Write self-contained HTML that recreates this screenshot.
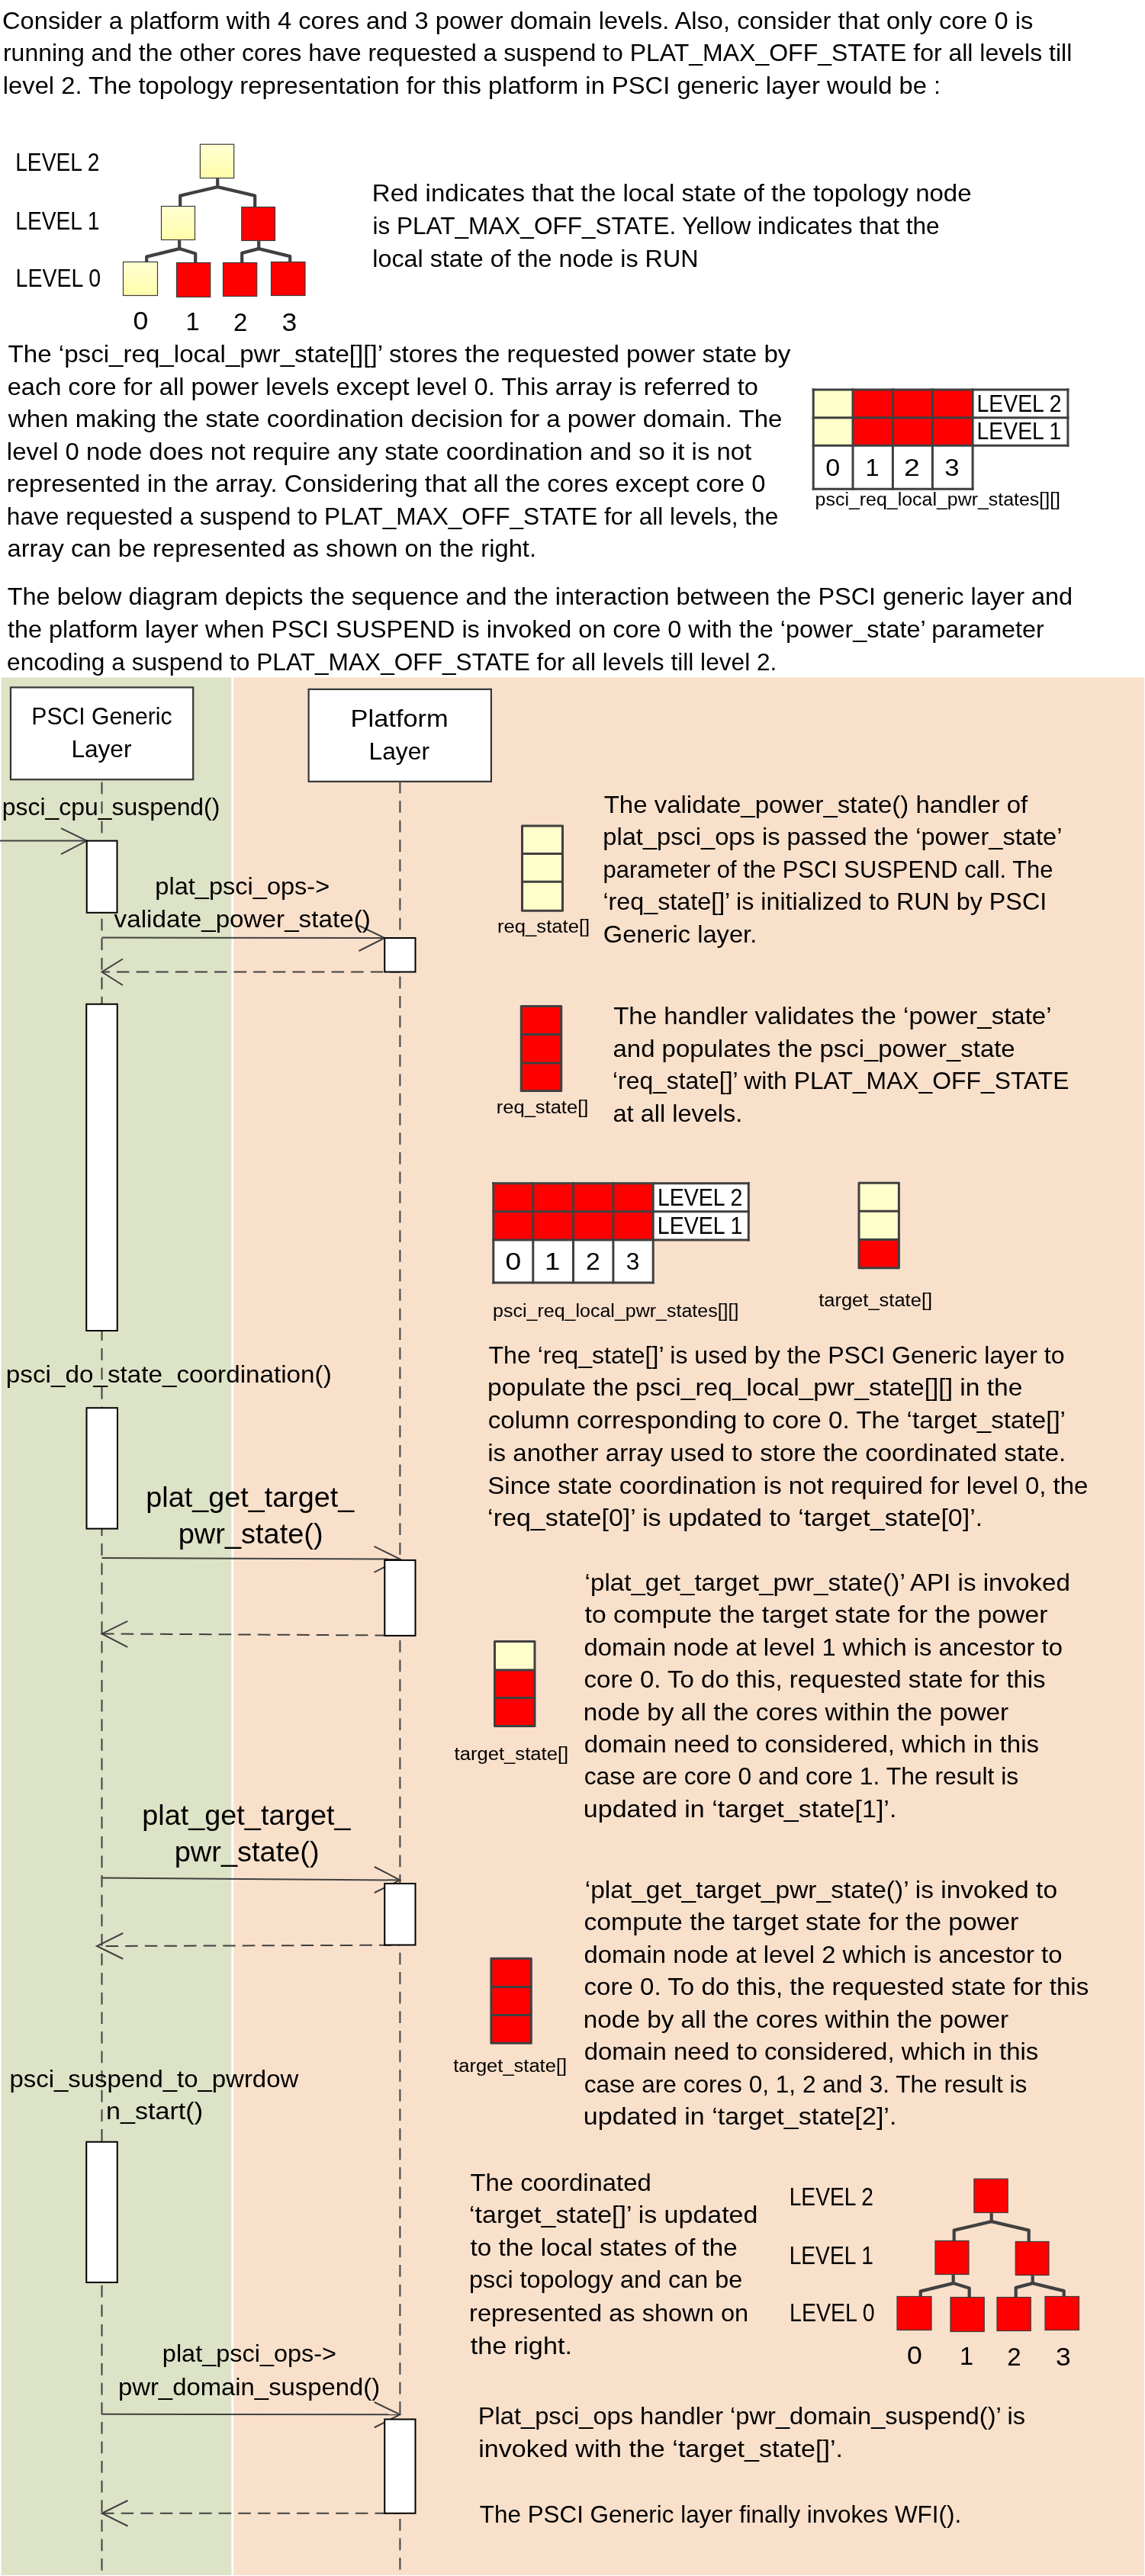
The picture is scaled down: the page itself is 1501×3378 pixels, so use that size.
<!DOCTYPE html>
<html><head><meta charset="utf-8"><title>PSCI suspend sequence</title>
<style>html,body{margin:0;padding:0;background:#FFFFFF;}body{width:1501px;height:3378px;font-family:"Liberation Sans",sans-serif;}svg{display:block;will-change:transform;}</style>
</head><body><svg width="1501" height="3378" viewBox="0 0 1501 3378"><defs><linearGradient id="ygrad" x1="0" y1="0" x2="0" y2="1"><stop offset="0" stop-color="#FFFFD2"/><stop offset="1" stop-color="#FFFDA9"/></linearGradient></defs><rect x="1.6" y="888.4" width="301.8" height="2488.6" fill="#DCE3C6"/><rect x="306.2" y="888.4" width="1193.8" height="2488.6" fill="#F9E0CB"/><g transform="translate(0.00,0.00)"><polyline points="236.20,271.10 236.20,256.60 285.20,245.10 334.20,256.60 334.20,272.10" fill="none" stroke="#404040" stroke-width="4.2" stroke-linejoin="round"/><polyline points="285.20,234.10 285.20,245.10" fill="none" stroke="#404040" stroke-width="4.2" stroke-linejoin="round"/><polyline points="235.20,315.10 235.20,326.10" fill="none" stroke="#404040" stroke-width="4.2" stroke-linejoin="round"/><polyline points="192.20,344.10 192.20,336.60 235.20,326.10 256.20,332.60 256.20,345.10" fill="none" stroke="#404040" stroke-width="4.2" stroke-linejoin="round"/><polyline points="339.20,316.10 339.20,326.10" fill="none" stroke="#404040" stroke-width="4.2" stroke-linejoin="round"/><polyline points="317.20,345.10 317.20,331.85 339.20,326.10 380.20,336.10 380.20,344.10" fill="none" stroke="#404040" stroke-width="4.2" stroke-linejoin="round"/><rect x="262.40" y="189.25" width="44.30" height="44.25" fill="url(#ygrad)" stroke="#3c3c3c" stroke-width="1.2"/><rect x="211.50" y="270.50" width="44.00" height="44.00" fill="url(#ygrad)" stroke="#3c3c3c" stroke-width="1.2"/><rect x="316.75" y="271.50" width="43.75" height="44.00" fill="#FF0000" stroke="#3c3c3c" stroke-width="1.2"/><rect x="161.50" y="343.50" width="45.00" height="44.00" fill="url(#ygrad)" stroke="#3c3c3c" stroke-width="1.2"/><rect x="231.50" y="344.50" width="44.25" height="45.00" fill="#FF0000" stroke="#3c3c3c" stroke-width="1.2"/><rect x="292.50" y="344.50" width="44.25" height="44.00" fill="#FF0000" stroke="#3c3c3c" stroke-width="1.2"/><rect x="355.50" y="343.50" width="44.50" height="44.00" fill="#FF0000" stroke="#3c3c3c" stroke-width="1.2"/></g><g transform="translate(1014.50,2668.00)"><polyline points="236.20,271.10 236.20,256.60 285.20,245.10 334.20,256.60 334.20,272.10" fill="none" stroke="#404040" stroke-width="4.2" stroke-linejoin="round"/><polyline points="285.20,234.10 285.20,245.10" fill="none" stroke="#404040" stroke-width="4.2" stroke-linejoin="round"/><polyline points="235.20,315.10 235.20,326.10" fill="none" stroke="#404040" stroke-width="4.2" stroke-linejoin="round"/><polyline points="192.20,344.10 192.20,336.60 235.20,326.10 256.20,332.60 256.20,345.10" fill="none" stroke="#404040" stroke-width="4.2" stroke-linejoin="round"/><polyline points="339.20,316.10 339.20,326.10" fill="none" stroke="#404040" stroke-width="4.2" stroke-linejoin="round"/><polyline points="317.20,345.10 317.20,331.85 339.20,326.10 380.20,336.10 380.20,344.10" fill="none" stroke="#404040" stroke-width="4.2" stroke-linejoin="round"/><rect x="262.40" y="189.25" width="44.30" height="44.25" fill="#FF0000" stroke="#3c3c3c" stroke-width="1.2"/><rect x="211.50" y="270.50" width="44.00" height="44.00" fill="#FF0000" stroke="#3c3c3c" stroke-width="1.2"/><rect x="316.75" y="271.50" width="43.75" height="44.00" fill="#FF0000" stroke="#3c3c3c" stroke-width="1.2"/><rect x="161.50" y="343.50" width="45.00" height="44.00" fill="#FF0000" stroke="#3c3c3c" stroke-width="1.2"/><rect x="231.50" y="344.50" width="44.25" height="45.00" fill="#FF0000" stroke="#3c3c3c" stroke-width="1.2"/><rect x="292.50" y="344.50" width="44.25" height="44.00" fill="#FF0000" stroke="#3c3c3c" stroke-width="1.2"/><rect x="355.50" y="343.50" width="44.50" height="44.00" fill="#FF0000" stroke="#3c3c3c" stroke-width="1.2"/></g><rect x="1066.20" y="510.90" width="51.80" height="36.80" fill="#FFFFCC"/><rect x="1118.00" y="510.90" width="52.40" height="36.80" fill="#FF0000"/><rect x="1170.40" y="510.90" width="52.00" height="36.80" fill="#FF0000"/><rect x="1222.40" y="510.90" width="52.70" height="36.80" fill="#FF0000"/><rect x="1275.10" y="510.90" width="124.80" height="36.80" fill="#FFFFFF"/><rect x="1066.20" y="547.70" width="51.80" height="36.50" fill="#FFFFCC"/><rect x="1118.00" y="547.70" width="52.40" height="36.50" fill="#FF0000"/><rect x="1170.40" y="547.70" width="52.00" height="36.50" fill="#FF0000"/><rect x="1222.40" y="547.70" width="52.70" height="36.50" fill="#FF0000"/><rect x="1275.10" y="547.70" width="124.80" height="36.50" fill="#FFFFFF"/><rect x="1066.20" y="584.20" width="51.80" height="57.00" fill="#FFFFFF"/><rect x="1118.00" y="584.20" width="52.40" height="57.00" fill="#FFFFFF"/><rect x="1170.40" y="584.20" width="52.00" height="57.00" fill="#FFFFFF"/><rect x="1222.40" y="584.20" width="52.70" height="57.00" fill="#FFFFFF"/><line x1="1066.20" y1="510.90" x2="1399.90" y2="510.90" stroke="#404040" stroke-width="3" stroke-linecap="square"/><line x1="1066.20" y1="547.70" x2="1399.90" y2="547.70" stroke="#404040" stroke-width="3" stroke-linecap="square"/><line x1="1066.20" y1="584.20" x2="1399.90" y2="584.20" stroke="#404040" stroke-width="3" stroke-linecap="square"/><line x1="1066.20" y1="641.20" x2="1275.10" y2="641.20" stroke="#404040" stroke-width="3" stroke-linecap="square"/><line x1="1066.20" y1="510.90" x2="1066.20" y2="641.20" stroke="#404040" stroke-width="3" stroke-linecap="square"/><line x1="1118.00" y1="510.90" x2="1118.00" y2="641.20" stroke="#404040" stroke-width="3" stroke-linecap="square"/><line x1="1170.40" y1="510.90" x2="1170.40" y2="641.20" stroke="#404040" stroke-width="3" stroke-linecap="square"/><line x1="1222.40" y1="510.90" x2="1222.40" y2="641.20" stroke="#404040" stroke-width="3" stroke-linecap="square"/><line x1="1275.10" y1="510.90" x2="1275.10" y2="641.20" stroke="#404040" stroke-width="3" stroke-linecap="square"/><line x1="1399.90" y1="510.90" x2="1399.90" y2="584.20" stroke="#404040" stroke-width="3" stroke-linecap="square"/><rect x="646.80" y="1551.65" width="52.00" height="37.15" fill="#FF0000"/><rect x="698.80" y="1551.65" width="52.70" height="37.15" fill="#FF0000"/><rect x="751.50" y="1551.65" width="52.40" height="37.15" fill="#FF0000"/><rect x="803.90" y="1551.65" width="52.30" height="37.15" fill="#FF0000"/><rect x="856.20" y="1551.65" width="125.10" height="37.15" fill="#FFFFFF"/><rect x="646.80" y="1588.80" width="52.00" height="37.20" fill="#FF0000"/><rect x="698.80" y="1588.80" width="52.70" height="37.20" fill="#FF0000"/><rect x="751.50" y="1588.80" width="52.40" height="37.20" fill="#FF0000"/><rect x="803.90" y="1588.80" width="52.30" height="37.20" fill="#FF0000"/><rect x="856.20" y="1588.80" width="125.10" height="37.20" fill="#FFFFFF"/><rect x="646.80" y="1626.00" width="52.00" height="55.90" fill="#FFFFFF"/><rect x="698.80" y="1626.00" width="52.70" height="55.90" fill="#FFFFFF"/><rect x="751.50" y="1626.00" width="52.40" height="55.90" fill="#FFFFFF"/><rect x="803.90" y="1626.00" width="52.30" height="55.90" fill="#FFFFFF"/><line x1="646.80" y1="1551.65" x2="981.30" y2="1551.65" stroke="#404040" stroke-width="3" stroke-linecap="square"/><line x1="646.80" y1="1588.80" x2="981.30" y2="1588.80" stroke="#404040" stroke-width="3" stroke-linecap="square"/><line x1="646.80" y1="1626.00" x2="981.30" y2="1626.00" stroke="#404040" stroke-width="3" stroke-linecap="square"/><line x1="646.80" y1="1681.90" x2="856.20" y2="1681.90" stroke="#404040" stroke-width="3" stroke-linecap="square"/><line x1="646.80" y1="1551.65" x2="646.80" y2="1681.90" stroke="#404040" stroke-width="3" stroke-linecap="square"/><line x1="698.80" y1="1551.65" x2="698.80" y2="1681.90" stroke="#404040" stroke-width="3" stroke-linecap="square"/><line x1="751.50" y1="1551.65" x2="751.50" y2="1681.90" stroke="#404040" stroke-width="3" stroke-linecap="square"/><line x1="803.90" y1="1551.65" x2="803.90" y2="1681.90" stroke="#404040" stroke-width="3" stroke-linecap="square"/><line x1="856.20" y1="1551.65" x2="856.20" y2="1681.90" stroke="#404040" stroke-width="3" stroke-linecap="square"/><line x1="981.30" y1="1551.65" x2="981.30" y2="1626.00" stroke="#404040" stroke-width="3" stroke-linecap="square"/><rect x="684.50" y="1083.00" width="53.00" height="36.50" fill="#FFFFCC"/><rect x="684.50" y="1119.50" width="53.00" height="36.75" fill="#FFFFCC"/><rect x="684.50" y="1156.25" width="53.00" height="38.00" fill="#FFFFCC"/><rect x="684.50" y="1083.00" width="53.00" height="111.25" fill="none" stroke="#404040" stroke-width="3" stroke-linejoin="round"/><line x1="684.50" y1="1119.50" x2="737.50" y2="1119.50" stroke="#404040" stroke-width="3"/><line x1="684.50" y1="1156.25" x2="737.50" y2="1156.25" stroke="#404040" stroke-width="3"/><rect x="683.25" y="1319.50" width="52.50" height="37.00" fill="#FF0000"/><rect x="683.25" y="1356.50" width="52.50" height="37.50" fill="#FF0000"/><rect x="683.25" y="1394.00" width="52.50" height="36.50" fill="#FF0000"/><rect x="683.25" y="1319.50" width="52.50" height="111.00" fill="none" stroke="#404040" stroke-width="3" stroke-linejoin="round"/><line x1="683.25" y1="1356.50" x2="735.75" y2="1356.50" stroke="#404040" stroke-width="3"/><line x1="683.25" y1="1394.00" x2="735.75" y2="1394.00" stroke="#404040" stroke-width="3"/><rect x="1126.00" y="1551.30" width="52.40" height="36.90" fill="#FFFFCC"/><rect x="1126.00" y="1588.20" width="52.40" height="37.30" fill="#FFFFCC"/><rect x="1126.00" y="1625.50" width="52.40" height="37.25" fill="#FF0000"/><rect x="1126.00" y="1551.30" width="52.40" height="111.45" fill="none" stroke="#404040" stroke-width="3" stroke-linejoin="round"/><line x1="1126.00" y1="1588.20" x2="1178.40" y2="1588.20" stroke="#404040" stroke-width="3"/><line x1="1126.00" y1="1625.50" x2="1178.40" y2="1625.50" stroke="#404040" stroke-width="3"/><rect x="648.50" y="2152.40" width="52.50" height="37.50" fill="#FFFFCC"/><rect x="648.50" y="2189.90" width="52.50" height="36.70" fill="#FF0000"/><rect x="648.50" y="2226.60" width="52.50" height="37.00" fill="#FF0000"/><rect x="648.50" y="2152.40" width="52.50" height="111.20" fill="none" stroke="#404040" stroke-width="3" stroke-linejoin="round"/><line x1="648.50" y1="2189.90" x2="701.00" y2="2189.90" stroke="#404040" stroke-width="3"/><line x1="648.50" y1="2226.60" x2="701.00" y2="2226.60" stroke="#404040" stroke-width="3"/><rect x="643.90" y="2568.30" width="52.40" height="37.20" fill="#FF0000"/><rect x="643.90" y="2605.50" width="52.40" height="37.00" fill="#FF0000"/><rect x="643.90" y="2642.50" width="52.40" height="36.70" fill="#FF0000"/><rect x="643.90" y="2568.30" width="52.40" height="110.90" fill="none" stroke="#404040" stroke-width="3" stroke-linejoin="round"/><line x1="643.90" y1="2605.50" x2="696.30" y2="2605.50" stroke="#404040" stroke-width="3"/><line x1="643.90" y1="2642.50" x2="696.30" y2="2642.50" stroke="#404040" stroke-width="3"/><rect x="14" y="901.4" width="239.2" height="120.8" fill="#FFFFFF" stroke="#353535" stroke-width="2.2"/><rect x="404.6" y="903.85" width="239.3" height="121" fill="#FFFFFF" stroke="#353535" stroke-width="2.2"/><line x1="133.50" y1="1025.50" x2="133.50" y2="3371.50" stroke="#404040" stroke-width="2.0" stroke-dasharray="15.75 9.85" stroke-dashoffset="0.00"/><line x1="524.40" y1="1024.50" x2="524.40" y2="3371.50" stroke="#404040" stroke-width="2.0" stroke-dasharray="15.75 9.85" stroke-dashoffset="0.00"/><line x1="0.00" y1="1102.60" x2="113.75" y2="1102.60" stroke="#404040" stroke-width="2.0"/><polyline points="80.00,1086.10 113.75,1102.60 80.00,1120.10" fill="none" stroke="#404040" stroke-width="2"/><line x1="133.50" y1="1229.50" x2="504.25" y2="1230.00" stroke="#404040" stroke-width="2.0"/><polyline points="470.50,1213.75 504.25,1230.00 470.50,1247.00" fill="none" stroke="#404040" stroke-width="2"/><line x1="524.40" y1="1274.50" x2="133.50" y2="1274.50" stroke="#404040" stroke-width="2.0" stroke-dasharray="16.5 9.1" stroke-dashoffset="3.50"/><polyline points="161.00,1257.50 133.50,1274.50 161.00,1292.00" fill="none" stroke="#404040" stroke-width="2"/><line x1="133.50" y1="2043.00" x2="524.40" y2="2044.50" stroke="#404040" stroke-width="2.0"/><polyline points="490.50,2027.90 524.40,2044.50 490.50,2061.90" fill="none" stroke="#404040" stroke-width="2"/><line x1="524.40" y1="2144.60" x2="133.50" y2="2142.40" stroke="#404040" stroke-width="2.0" stroke-dasharray="16.5 9.1" stroke-dashoffset="9.20"/><polyline points="167.20,2125.80 133.50,2142.40 167.20,2159.90" fill="none" stroke="#404040" stroke-width="2"/><line x1="133.50" y1="2462.50" x2="524.50" y2="2465.50" stroke="#404040" stroke-width="2.0"/><polyline points="490.75,2448.00 524.50,2465.50 490.75,2482.00" fill="none" stroke="#404040" stroke-width="2"/><line x1="524.40" y1="2550.70" x2="127.00" y2="2552.00" stroke="#404040" stroke-width="2.0" stroke-dasharray="16.5 9.1" stroke-dashoffset="14.70"/><polyline points="161.25,2535.00 127.00,2552.00 161.25,2568.75" fill="none" stroke="#404040" stroke-width="2"/><line x1="133.50" y1="3165.75" x2="524.50" y2="3166.25" stroke="#404040" stroke-width="2.0"/><polyline points="490.75,3150.00 524.50,3166.25 490.75,3183.25" fill="none" stroke="#404040" stroke-width="2"/><line x1="524.40" y1="3295.75" x2="133.50" y2="3295.75" stroke="#404040" stroke-width="2.0" stroke-dasharray="16.5 9.1" stroke-dashoffset="9.20"/><polyline points="167.50,3279.00 133.50,3295.75 167.50,3312.50" fill="none" stroke="#404040" stroke-width="2"/><rect x="113.75" y="1102.60" width="39.75" height="94.20" fill="#FFFFFF" stroke="#000000" stroke-width="2"/><rect x="113.25" y="1316.75" width="40.50" height="428.25" fill="#FFFFFF" stroke="#000000" stroke-width="2"/><rect x="113.50" y="1846.25" width="40.50" height="158.35" fill="#FFFFFF" stroke="#000000" stroke-width="2"/><rect x="113.25" y="2808.75" width="40.50" height="184.25" fill="#FFFFFF" stroke="#000000" stroke-width="2"/><rect x="504.25" y="1230.00" width="40.25" height="44.50" fill="#FFFFFF" stroke="#000000" stroke-width="2"/><rect x="504.30" y="2045.90" width="40.20" height="99.00" fill="#FFFFFF" stroke="#000000" stroke-width="2"/><rect x="504.25" y="2470.00" width="40.25" height="80.50" fill="#FFFFFF" stroke="#000000" stroke-width="2"/><rect x="504.25" y="3172.50" width="40.25" height="123.25" fill="#FFFFFF" stroke="#000000" stroke-width="2"/><g fill="#000000" font-family="&quot;Liberation Sans&quot;, sans-serif"><text x="3.05" y="37.50" font-size="32.00" textLength="1351.25" lengthAdjust="spacingAndGlyphs">Consider a platform with 4 cores and 3 power domain levels. Also, consider that only core 0 is</text><text x="3.96" y="80.00" font-size="32.00" textLength="1401.30" lengthAdjust="spacingAndGlyphs">running and the other cores have requested a suspend to PLAT_MAX_OFF_STATE for all levels till</text><text x="3.84" y="123.00" font-size="32.00" textLength="1229.27" lengthAdjust="spacingAndGlyphs">level 2. The topology representation for this platform in PSCI generic layer would be :</text><text x="487.84" y="263.80" font-size="32.00" textLength="785.78" lengthAdjust="spacingAndGlyphs">Red indicates that the local state of the topology node</text><text x="488.48" y="306.80" font-size="32.00" textLength="743.01" lengthAdjust="spacingAndGlyphs">is PLAT_MAX_OFF_STATE. Yellow indicates that the</text><text x="488.27" y="349.50" font-size="32.00" textLength="427.30" lengthAdjust="spacingAndGlyphs">local state of the node is RUN</text><text x="10.58" y="475.20" font-size="32.00" textLength="1025.85" lengthAdjust="spacingAndGlyphs">The ‘psci_req_local_pwr_state[][]’ stores the requested power state by</text><text x="9.68" y="517.70" font-size="32.00" textLength="984.22" lengthAdjust="spacingAndGlyphs">each core for all power levels except level 0. This array is referred to</text><text x="10.86" y="560.20" font-size="32.00" textLength="1014.48" lengthAdjust="spacingAndGlyphs">when making the state coordination decision for a power domain. The</text><text x="8.83" y="602.80" font-size="32.00" textLength="976.36" lengthAdjust="spacingAndGlyphs">level 0 node does not require any state coordination and so it is not</text><text x="8.85" y="645.30" font-size="32.00" textLength="994.57" lengthAdjust="spacingAndGlyphs">represented in the array. Considering that all the cores except core 0</text><text x="8.85" y="687.90" font-size="32.00" textLength="1011.42" lengthAdjust="spacingAndGlyphs">have requested a suspend to PLAT_MAX_OFF_STATE for all levels, the</text><text x="9.54" y="730.40" font-size="32.00" textLength="693.42" lengthAdjust="spacingAndGlyphs">array can be represented as shown on the right.</text><text x="1280.60" y="539.50" font-size="32.00" textLength="110.86" lengthAdjust="spacingAndGlyphs">LEVEL 2</text><text x="1280.60" y="576.00" font-size="32.00" textLength="110.74" lengthAdjust="spacingAndGlyphs">LEVEL 1</text><text x="1082.35" y="623.70" font-size="32.00" textLength="19.00" lengthAdjust="spacingAndGlyphs">0</text><text x="1134.59" y="623.70" font-size="32.00" textLength="18.10" lengthAdjust="spacingAndGlyphs">1</text><text x="1185.06" y="623.70" font-size="32.00" textLength="20.77" lengthAdjust="spacingAndGlyphs">2</text><text x="1238.35" y="623.70" font-size="32.00" textLength="19.37" lengthAdjust="spacingAndGlyphs">3</text><text x="1068.63" y="663.00" font-size="23.50" textLength="321.37" lengthAdjust="spacingAndGlyphs">psci_req_local_pwr_states[][]</text><text x="9.74" y="793.00" font-size="32.00" textLength="1396.37" lengthAdjust="spacingAndGlyphs">The below diagram depicts the sequence and the interaction between the PSCI generic layer and</text><text x="9.99" y="835.80" font-size="32.00" textLength="1358.90" lengthAdjust="spacingAndGlyphs">the platform layer when PSCI SUSPEND is invoked on core 0 with the ‘power_state’ parameter</text><text x="9.06" y="878.60" font-size="32.00" textLength="1009.30" lengthAdjust="spacingAndGlyphs">encoding a suspend to PLAT_MAX_OFF_STATE for all levels till level 2.</text><text x="41.34" y="950.00" font-size="32.00" textLength="184.26" lengthAdjust="spacingAndGlyphs">PSCI Generic</text><text x="93.38" y="993.00" font-size="32.00" textLength="79.08" lengthAdjust="spacingAndGlyphs">Layer</text><text x="459.63" y="953.25" font-size="32.00" textLength="128.07" lengthAdjust="spacingAndGlyphs">Platform</text><text x="483.54" y="995.50" font-size="32.00" textLength="79.42" lengthAdjust="spacingAndGlyphs">Layer</text><text x="2.87" y="1068.80" font-size="32.00" textLength="285.50" lengthAdjust="spacingAndGlyphs">psci_cpu_suspend()</text><text x="203.36" y="1172.85" font-size="32.00" textLength="228.85" lengthAdjust="spacingAndGlyphs">plat_psci_ops-&gt;</text><text x="149.63" y="1215.60" font-size="32.00" textLength="336.17" lengthAdjust="spacingAndGlyphs">validate_power_state()</text><text x="7.87" y="1812.60" font-size="32.00" textLength="426.86" lengthAdjust="spacingAndGlyphs">psci_do_state_coordination()</text><text x="191.34" y="1975.90" font-size="36.00" textLength="272.84" lengthAdjust="spacingAndGlyphs">plat_get_target_</text><text x="233.75" y="2023.90" font-size="36.00" textLength="189.83" lengthAdjust="spacingAndGlyphs">pwr_state()</text><text x="186.33" y="2392.90" font-size="36.00" textLength="273.27" lengthAdjust="spacingAndGlyphs">plat_get_target_</text><text x="228.75" y="2441.15" font-size="36.00" textLength="189.83" lengthAdjust="spacingAndGlyphs">pwr_state()</text><text x="12.41" y="2736.85" font-size="32.00" textLength="378.85" lengthAdjust="spacingAndGlyphs">psci_suspend_to_pwrdow</text><text x="138.97" y="2779.35" font-size="32.00" textLength="127.05" lengthAdjust="spacingAndGlyphs">n_start()</text><text x="212.86" y="3097.10" font-size="32.00" textLength="228.14" lengthAdjust="spacingAndGlyphs">plat_psci_ops-&gt;</text><text x="154.93" y="3140.85" font-size="32.00" textLength="343.30" lengthAdjust="spacingAndGlyphs">pwr_domain_suspend()</text><text x="652.05" y="1222.50" font-size="23.50" textLength="121.11" lengthAdjust="spacingAndGlyphs">req_state[]</text><text x="791.69" y="1065.90" font-size="32.00" textLength="555.44" lengthAdjust="spacingAndGlyphs">The validate_power_state() handler of</text><text x="790.31" y="1108.40" font-size="32.00" textLength="602.18" lengthAdjust="spacingAndGlyphs">plat_psci_ops is passed the ‘power_state’</text><text x="790.54" y="1150.80" font-size="32.00" textLength="589.82" lengthAdjust="spacingAndGlyphs">parameter of the PSCI SUSPEND call. The</text><text x="790.45" y="1193.30" font-size="32.00" textLength="581.72" lengthAdjust="spacingAndGlyphs">‘req_state[]’ is initialized to RUN by PSCI</text><text x="790.79" y="1236.00" font-size="32.00" textLength="201.47" lengthAdjust="spacingAndGlyphs">Generic layer.</text><text x="650.79" y="1459.50" font-size="23.50" textLength="120.54" lengthAdjust="spacingAndGlyphs">req_state[]</text><text x="804.18" y="1342.90" font-size="32.00" textLength="574.38" lengthAdjust="spacingAndGlyphs">The handler validates the ‘power_state’</text><text x="803.53" y="1385.80" font-size="32.00" textLength="527.13" lengthAdjust="spacingAndGlyphs">and populates the psci_power_state</text><text x="803.00" y="1428.10" font-size="32.00" textLength="598.51" lengthAdjust="spacingAndGlyphs">‘req_state[]’ with PLAT_MAX_OFF_STATE</text><text x="803.55" y="1470.80" font-size="32.00" textLength="169.81" lengthAdjust="spacingAndGlyphs">at all levels.</text><text x="862.03" y="1581.20" font-size="32.00" textLength="111.37" lengthAdjust="spacingAndGlyphs">LEVEL 2</text><text x="861.84" y="1618.40" font-size="32.00" textLength="111.39" lengthAdjust="spacingAndGlyphs">LEVEL 1</text><text x="662.52" y="1664.70" font-size="32.00" textLength="20.73" lengthAdjust="spacingAndGlyphs">0</text><text x="714.11" y="1664.70" font-size="32.00" textLength="20.42" lengthAdjust="spacingAndGlyphs">1</text><text x="767.92" y="1664.70" font-size="32.00" textLength="18.81" lengthAdjust="spacingAndGlyphs">2</text><text x="820.68" y="1664.70" font-size="32.00" textLength="17.65" lengthAdjust="spacingAndGlyphs">3</text><text x="646.14" y="1727.00" font-size="23.50" textLength="322.31" lengthAdjust="spacingAndGlyphs">psci_req_local_pwr_states[][]</text><text x="1073.16" y="1712.50" font-size="23.50" textLength="148.92" lengthAdjust="spacingAndGlyphs">target_state[]</text><text x="640.47" y="1788.00" font-size="32.00" textLength="755.04" lengthAdjust="spacingAndGlyphs">The ‘req_state[]’ is used by the PSCI Generic layer to</text><text x="639.12" y="1830.20" font-size="32.00" textLength="701.27" lengthAdjust="spacingAndGlyphs">populate the psci_req_local_pwr_state[][] in the</text><text x="639.75" y="1872.90" font-size="32.00" textLength="757.22" lengthAdjust="spacingAndGlyphs">column corresponding to core 0. The ‘target_state[]’</text><text x="639.16" y="1915.80" font-size="32.00" textLength="758.14" lengthAdjust="spacingAndGlyphs">is another array used to store the coordinated state.</text><text x="639.37" y="1958.50" font-size="32.00" textLength="787.11" lengthAdjust="spacingAndGlyphs">Since state coordination is not required for level 0, the</text><text x="639.10" y="2000.80" font-size="32.00" textLength="649.14" lengthAdjust="spacingAndGlyphs">‘req_state[0]’ is updated to ‘target_state[0]’.</text><text x="595.62" y="2308.20" font-size="23.50" textLength="149.55" lengthAdjust="spacingAndGlyphs">target_state[]</text><text x="766.63" y="2085.90" font-size="32.00" textLength="636.31" lengthAdjust="spacingAndGlyphs">‘plat_get_target_pwr_state()’ API is invoked</text><text x="766.60" y="2128.30" font-size="32.00" textLength="606.79" lengthAdjust="spacingAndGlyphs">to compute the target state for the power</text><text x="765.55" y="2170.70" font-size="32.00" textLength="627.34" lengthAdjust="spacingAndGlyphs">domain node at level 1 which is ancestor to</text><text x="765.55" y="2213.10" font-size="32.00" textLength="605.07" lengthAdjust="spacingAndGlyphs">core 0. To do this, requested state for this</text><text x="764.82" y="2255.50" font-size="32.00" textLength="557.31" lengthAdjust="spacingAndGlyphs">node by all the cores within the power</text><text x="765.69" y="2297.90" font-size="32.00" textLength="596.29" lengthAdjust="spacingAndGlyphs">domain need to considered, which in this</text><text x="765.70" y="2340.30" font-size="32.00" textLength="569.47" lengthAdjust="spacingAndGlyphs">case are core 0 and core 1. The result is</text><text x="764.84" y="2382.70" font-size="32.00" textLength="410.54" lengthAdjust="spacingAndGlyphs">updated in ‘target_state[1]’.</text><text x="594.15" y="2717.30" font-size="23.50" textLength="148.95" lengthAdjust="spacingAndGlyphs">target_state[]</text><text x="766.72" y="2488.90" font-size="32.00" textLength="619.32" lengthAdjust="spacingAndGlyphs">‘plat_get_target_pwr_state()’ is invoked to</text><text x="765.51" y="2531.40" font-size="32.00" textLength="569.63" lengthAdjust="spacingAndGlyphs">compute the target state for the power</text><text x="765.56" y="2573.90" font-size="32.00" textLength="626.82" lengthAdjust="spacingAndGlyphs">domain node at level 2 which is ancestor to</text><text x="765.54" y="2616.40" font-size="32.00" textLength="661.70" lengthAdjust="spacingAndGlyphs">core 0. To do this, the requested state for this</text><text x="764.82" y="2658.90" font-size="32.00" textLength="557.31" lengthAdjust="spacingAndGlyphs">node by all the cores within the power</text><text x="765.69" y="2701.40" font-size="32.00" textLength="595.59" lengthAdjust="spacingAndGlyphs">domain need to considered, which in this</text><text x="765.72" y="2743.90" font-size="32.00" textLength="580.55" lengthAdjust="spacingAndGlyphs">case are cores 0, 1, 2 and 3. The result is</text><text x="764.84" y="2786.40" font-size="32.00" textLength="410.56" lengthAdjust="spacingAndGlyphs">updated in ‘target_state[2]’.</text><text x="616.49" y="2872.80" font-size="32.00" textLength="237.27" lengthAdjust="spacingAndGlyphs">The coordinated</text><text x="615.09" y="2915.00" font-size="32.00" textLength="378.32" lengthAdjust="spacingAndGlyphs">‘target_state[]’ is updated</text><text x="616.61" y="2957.90" font-size="32.00" textLength="350.07" lengthAdjust="spacingAndGlyphs">to the local states of the</text><text x="615.02" y="3000.30" font-size="32.00" textLength="358.23" lengthAdjust="spacingAndGlyphs">psci topology and can be</text><text x="615.04" y="3044.00" font-size="32.00" textLength="366.20" lengthAdjust="spacingAndGlyphs">represented as shown on</text><text x="616.72" y="3086.50" font-size="32.00" textLength="133.25" lengthAdjust="spacingAndGlyphs">the right.</text><text x="626.79" y="3179.40" font-size="32.00" textLength="717.41" lengthAdjust="spacingAndGlyphs">Plat_psci_ops handler ‘pwr_domain_suspend()’ is</text><text x="627.26" y="3222.20" font-size="32.00" textLength="477.77" lengthAdjust="spacingAndGlyphs">invoked with the ‘target_state[]’.</text><text x="628.85" y="3308.10" font-size="32.00" textLength="631.25" lengthAdjust="spacingAndGlyphs">The PSCI Generic layer finally invokes WFI().</text><text x="20.21" y="223.70" font-size="33.00" textLength="110.16" lengthAdjust="spacingAndGlyphs">LEVEL 2</text><text x="20.22" y="301.00" font-size="33.00" textLength="110.28" lengthAdjust="spacingAndGlyphs">LEVEL 1</text><text x="20.59" y="376.00" font-size="33.00" textLength="111.57" lengthAdjust="spacingAndGlyphs">LEVEL 0</text><text x="174.56" y="432.00" font-size="33.00" textLength="19.85" lengthAdjust="spacingAndGlyphs">0</text><text x="243.59" y="432.50" font-size="33.00" textLength="18.10" lengthAdjust="spacingAndGlyphs">1</text><text x="305.92" y="433.50" font-size="33.00" textLength="18.35" lengthAdjust="spacingAndGlyphs">2</text><text x="369.47" y="433.50" font-size="33.00" textLength="19.72" lengthAdjust="spacingAndGlyphs">3</text><text x="1034.69" y="2891.70" font-size="33.00" textLength="110.19" lengthAdjust="spacingAndGlyphs">LEVEL 2</text><text x="1034.68" y="2969.00" font-size="33.00" textLength="110.14" lengthAdjust="spacingAndGlyphs">LEVEL 1</text><text x="1035.02" y="3044.00" font-size="33.00" textLength="111.73" lengthAdjust="spacingAndGlyphs">LEVEL 0</text><text x="1189.03" y="3100.00" font-size="33.00" textLength="19.85" lengthAdjust="spacingAndGlyphs">0</text><text x="1257.99" y="3100.50" font-size="33.00" textLength="18.10" lengthAdjust="spacingAndGlyphs">1</text><text x="1320.29" y="3101.50" font-size="33.00" textLength="18.35" lengthAdjust="spacingAndGlyphs">2</text><text x="1383.97" y="3101.50" font-size="33.00" textLength="19.75" lengthAdjust="spacingAndGlyphs">3</text></g></svg></body></html>
